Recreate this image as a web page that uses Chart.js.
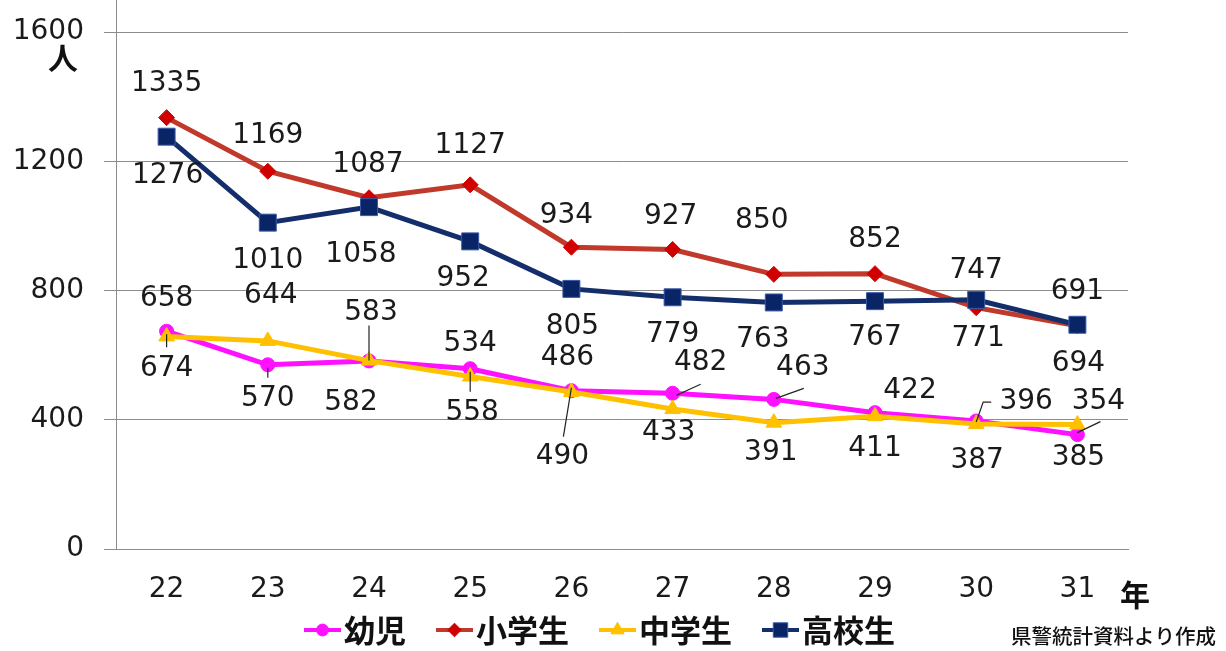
<!DOCTYPE html>
<html><head><meta charset="utf-8">
<script src="https://cdn.jsdelivr.net/npm/chart.js@4.4.1/dist/chart.umd.min.js"></script>
<style>html,body{margin:0;padding:0;background:#fff;}#wrap{width:1226px;height:651px;position:relative;}</style>
</head><body><div id="wrap"><canvas id="c" width="1226" height="651"></canvas></div>
<script>
// ---- data ----
const years = ['22','23','24','25','26','27','28','29','30','31'];
const infants    = [674, 570, 582, 558, 490, 482, 463, 422, 396, 354];
const elementary = [1335, 1169, 1087, 1127, 934, 927, 850, 852, 747, 691];
const juniorHigh = [658, 644, 583, 534, 486, 433, 391, 411, 387, 385];
const highSchool = [1276, 1010, 1058, 952, 805, 779, 763, 767, 771, 694];
const yTicks = [0, 400, 800, 1200, 1600];
const seriesNames = ['幼児', '小学生', '中学生', '高校生'];
const unitLabel = '人';
const xUnitLabel = '年';
const sourceNote = '県警統計資料より作成';

// ---- label placement (pixel offsets from each point) ----
const labelOffsets = [
  [[0,38],[0,34],[-18,42],[2,44],[-9,66],[28,-31],[29,-32],[35,-22],[50,-19],[21,-33]],
  [[0,-34],[0,-36],[-1,-33],[0,-39],[-5,-31],[-2,-33],[-12,-54],[0,-34],[0,-37],[0,-34]],
  [[0,-38],[3,-45],[2,-48],[0,-33],[-4,-34],[-4,24],[-3,30],[0,33],[1,37],[1,33]],
  [[1,39],[0,38],[-8,48],[-7,37],[1,38],[0,37],[-11,37],[0,37],[2,39],[1,39]]
];
const leaderLines = [
  {0:[[0,3],[0,16]], 1:[[0,3],[0,13]], 3:[[0,3],[0,23]], 4:[[0,-3],[-8,46]], 5:[[4,2],[28,-9]], 6:[[2,-1],[30,-11]], 8:[[0,1],[7,-19],[15,-19]], 9:[[0,-2],[23,-13]]},
  {},
  {2:[[0,-35],[0,0]]},
  {}
];

const NUM_FONT = '28px "DejaVu Sans"';
const CJK = '"Noto Sans CJK JP"';
const TEXT = '#1a1a1a';
const GRID = '#8c8c8c';

const datasets = [
  {label: seriesNames[0], data: infants, borderColor:'#FF10FF', backgroundColor:'#FF10FF', pointStyle:'circle', pointRadius:7, pointBackgroundColor:'#FF10FF', pointBorderColor:'#FF10FF', order:4},
  {label: seriesNames[1], data: elementary, borderColor:'#C0392B', backgroundColor:'#CC0000', pointStyle:'rectRot', pointRadius:8, pointBackgroundColor:'#D00000', pointBorderColor:'#D00000', order:3},
  {label: seriesNames[2], data: juniorHigh, borderColor:'#FFC000', backgroundColor:'#FFC000', pointStyle:'triangle', pointRadius:9, pointBackgroundColor:'#FFC000', pointBorderColor:'#FFC000', order:2},
  {label: seriesNames[3], data: highSchool, borderColor:'#132E6B', backgroundColor:'#0A2566', pointStyle:'rect', pointRadius:12, pointBackgroundColor:'#0A2566', pointBorderColor:'#3A5AA8', order:1}
].map(d => Object.assign({borderWidth:5, pointBorderWidth:1, tension:0, fill:false, clip:false}, d));

function drawMarker(ctx, ds, x, y, r){
  ctx.fillStyle = ds.pointBackgroundColor;
  ctx.strokeStyle = ds.pointBorderColor;
  ctx.lineWidth = 1;
  Chart.helpers.drawPoint(ctx, {pointStyle: ds.pointStyle, radius: r, borderWidth: 1, rotation: 0}, x, y);
}

const extrasPlugin = {
  id: 'extras',
  beforeDatasetsDraw(chart){
    const ctx = chart.ctx, a = chart.chartArea;
    ctx.save();
    ctx.strokeStyle = GRID; ctx.lineWidth = 1;
    ctx.beginPath(); ctx.moveTo(a.left + 0.5, 0); ctx.lineTo(a.left + 0.5, a.top); ctx.stroke();
    ctx.restore();
  },
  afterDatasetsDraw(chart){
    const ctx = chart.ctx;
    ctx.save();
    chart.data.datasets.forEach((ds, di) => {
      const meta = chart.getDatasetMeta(di);
      meta.data.forEach((pt, i) => {
        const L = leaderLines[di][i];
        if (L){
          ctx.strokeStyle = '#222'; ctx.lineWidth = 1.2;
          ctx.beginPath();
          L.forEach((p, k) => { const fn = k ? 'lineTo' : 'moveTo'; ctx[fn](pt.x + p[0], pt.y + p[1]); });
          ctx.stroke();
        }
      });
    });
    ctx.font = NUM_FONT; ctx.fillStyle = TEXT; ctx.textAlign = 'center'; ctx.textBaseline = 'middle';
    chart.data.datasets.forEach((ds, di) => {
      const meta = chart.getDatasetMeta(di);
      meta.data.forEach((pt, i) => {
        const o = labelOffsets[di][i];
        ctx.fillText(String(ds.data[i]), pt.x + o[0], pt.y + o[1]);
      });
    });
    ctx.restore();
  },
  afterDraw(chart){
    const ctx = chart.ctx;
    ctx.save();
    ctx.fillStyle = '#111';
    ctx.textBaseline = 'middle'; ctx.textAlign = 'center';
    ctx.font = 'bold 30px ' + CJK;
    ctx.fillText(unitLabel, 63, 58);
    ctx.fillText(xUnitLabel, 1135, 595);
    ctx.textAlign = 'right';
    ctx.font = '500 20.5px ' + CJK;
    ctx.fillText(sourceNote, 1216, 636);
    // legend
    let x = 304; const y = 630;
    ctx.font = 'bold 31px ' + CJK;
    ctx.textAlign = 'left';
    chart.data.datasets.forEach(ds => {
      ctx.strokeStyle = ds.borderColor; ctx.lineWidth = 4;
      ctx.beginPath(); ctx.moveTo(x, y); ctx.lineTo(x + 37, y); ctx.stroke();
      drawMarker(ctx, ds, x + 18.5, y, ds.pointRadius * 0.85);
      ctx.fillStyle = '#111';
      ctx.fillText(ds.label, x + 40, y);
      x += 40 + ctx.measureText(ds.label).width + 30;
    });
    ctx.restore();
  }
};

new Chart(document.getElementById('c'), {
  type: 'line',
  data: { labels: years, datasets },
  options: {
    responsive: false,
    devicePixelRatio: 1,
    animation: false,
    layout: { padding: { top: 32, right: 98, bottom: 0, left: 0 } },
    plugins: { legend: { display: false }, tooltip: { enabled: false }, title: { display: false } },
    scales: {
      x: {
        type: 'category', offset: true,
        grid: { display: false, drawTicks: false },
        border: { display: true, color: GRID, width: 1 },
        ticks: { font: { family: 'DejaVu Sans', size: 28 }, color: TEXT, padding: 24, maxRotation: 0, autoSkip: false },
        afterFit(s){ s.height = 102; s.paddingLeft = 0; s.paddingRight = 0; }
      },
      y: {
        min: 0, max: 1600,
        afterBuildTicks(s){ s.ticks = yTicks.map(v => ({ value: v })); },
        grid: { color: GRID, lineWidth: 1, tickLength: 12, drawTicks: true },
        border: { display: true, color: GRID, width: 1 },
        ticks: { font: { family: 'DejaVu Sans', size: 28 }, color: TEXT, padding: 20, callback: v => String(v) },
        afterFit(s){ s.width = 116; s.paddingTop = 0; s.paddingBottom = 0; }
      }
    }
  },
  plugins: [extrasPlugin]
});
</script></body></html>
